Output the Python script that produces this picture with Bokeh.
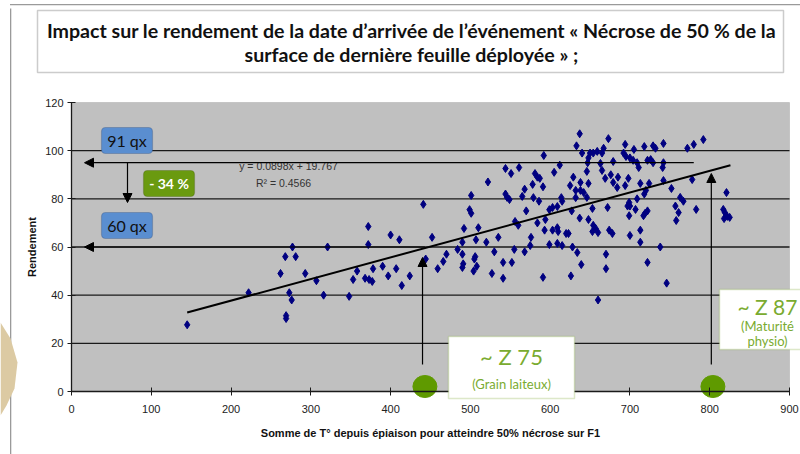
from bokeh.plotting import figure
from bokeh.models import (Label, BoxAnnotation, Arrow, NormalHead, PolyAnnotation,
                          ColumnDataSource, LinearAxis, FixedTicker)
from bokeh.embed import file_html
from bokeh.resources import INLINE

# ---------------- data ----------------
sum_temp = [145, 222, 262, 268, 277, 281, 293, 307, 273, 276, 269, 269, 316, 321,
            441, 372, 400, 411, 372, 452, 484, 470, 444, 466, 459, 358, 378, 390, 407, 397, 424,
            353, 368, 373, 377, 414, 348,
            637, 592, 612, 544, 551, 561, 605, 581, 584, 587, 522, 578, 568, 591, 625, 632, 501,
            544, 546, 549, 565, 579, 586, 614, 615, 632, 499, 501, 570, 599, 603, 609, 627, 556,
            560, 584, 594, 492, 510, 593, 603, 609, 610, 620, 623, 535, 576, 507, 520, 555, 568,
            575, 530, 599, 609, 615, 628, 634, 490, 491, 490, 506, 505, 508, 504, 541, 552, 527,
            541, 591, 626, 490,
            633, 640, 673, 650, 654, 659, 665, 667, 648, 647, 694, 692, 695, 705, 718, 732, 729,
            742, 772, 679, 663, 700, 704, 709, 711, 722, 726, 729, 742, 741, 646, 665, 629, 669,
            676, 679, 685, 698, 638, 648, 684, 694, 713, 724, 742, 638, 642, 646, 720, 718, 752,
            653, 672, 709, 699, 700, 697, 707, 722, 719, 717, 699, 757, 763, 767, 761, 758, 637,
            648, 654, 657, 653, 660, 674, 678, 713, 700, 639, 670, 670, 713, 738, 722, 746, 660,
            792, 780, 778, 821, 817, 819, 822, 825, 818, 783]
rendement = [27.7, 41, 49, 56, 60, 56, 49, 46, 41, 38, 31.5, 30.3, 40, 60,
             77.7, 68.5, 65, 63, 61, 64, 59, 57, 55, 54, 51, 50, 51, 52, 51, 48, 48,
             46.5, 47, 46.5, 45.7, 44, 39.5,
             107, 98, 94, 92.6, 90.5, 93, 91, 90.5, 89, 88.5, 87, 86, 84, 85, 85.5, 83.5, 81.4,
             82, 80.6, 79.7, 81, 80.5, 79, 80.5, 79, 80.5, 75.5, 74, 75, 75.5, 76.4, 76.8, 75, 70.6,
             69, 70, 71.4, 67.7, 68, 67, 67, 68, 66.4, 65.6, 65.6, 64, 64, 63, 62, 59, 58,
             60.6, 58, 61, 61.5, 60.6, 60, 57.7, 57, 53, 51.5, 56, 55, 52, 50, 53.6, 53.6, 49,
             47, 47.4, 48, 62,
             102, 99, 105, 99, 99, 99.7, 99, 101, 97, 95, 102.6, 99, 97.6, 100.5, 101.7, 101, 102,
             103, 101, 95.5, 94.7, 97, 96, 95, 93, 96, 96.3, 95, 95, 93, 91.4, 91.8, 89, 88.5,
             90, 86.8, 89, 88.5, 86.8, 86.4, 84.7, 85.5, 86.4, 86.4, 87.6, 83.5, 82.6, 80.6, 83.5, 82, 84.3,
             76, 76.4, 80, 78.5, 77, 77, 75.6, 75, 74, 73, 73, 77, 80.6, 79, 74.3, 71, 72,
             71.4, 69, 67.7, 66.4, 66, 67, 65.6, 67, 64.8, 52.7, 57, 51, 62, 60, 53.6, 45, 38,
             104.6, 102.6, 88, 82.6, 75.6, 74.3, 72.7, 72.3, 71.8, 75.6]

trend_slope = 0.0898
trend_intercept = 19.767
trend_r2 = 0.4566
trend_x = [145, 826]

x_ticks = [0, 100, 200, 300, 400, 500, 600, 700, 800, 900]
y_ticks = [0, 20, 40, 60, 80, 100, 120]
grid_y = [20, 40, 60, 80, 100]

level_y = [95, 60]            # yield level arrows (91 qx / 60 qx)
level_labels = ["91 qx", "60 qx"]
drop_label = "- 34 %"
stage_x = [443, 804]          # stage markers on the x axis
stage_names = ["~ Z 75", "~ Z 87"]
stage_notes = ["(Grain laiteux)", "(Maturité", "physio)"]

title_lines = ["Impact sur le rendement de la date d\u2019arrivée de l\u2019événement « Nécrose de 50 % de la",
               "surface de dernière feuille déployée » ;"]

# ---------------- figure ----------------
W, H = 800, 454

# canvas pixel -> data helpers
def dx(px):
    return (px - 71) / (718 / 900)

def dy(py):
    return (391 - py) / (289 / 120)

p = figure(width=W, height=H, x_range=(dx(0), dx(W)), y_range=(dy(H), dy(0)),
           min_border=0, x_axis_location=None, y_axis_location=None,
           output_backend="svg", toolbar_location=None)
p.outline_line_color = None
p.background_fill_color = "white"
p.border_fill_color = "white"
p.xgrid.grid_line_color = None
p.ygrid.grid_line_color = None

# plot area
p.add_layout(BoxAnnotation(left=0, right=900, bottom=0, top=120, fill_color="#c0c0c0",
                           fill_alpha=1, line_color="#8a8a8a", line_width=1, level="underlay"))
p.segment(x0=[0] * len(grid_y), x1=[900] * len(grid_y), y0=grid_y, y1=grid_y,
          line_color="#1a1a1a", line_width=1.3)

xax = LinearAxis(fixed_location=0, bounds=(0, 900), ticker=FixedTicker(ticks=x_ticks),
                 axis_label="Somme de T° depuis épiaison pour atteindre 50% nécrose sur F1")
yax = LinearAxis(fixed_location=0, bounds=(0, 120), ticker=FixedTicker(ticks=y_ticks),
                 axis_label="Rendement")
for ax in (xax, yax):
    ax.axis_line_color = "#1a1a1a"
    ax.axis_line_width = 1.3
    ax.major_tick_line_color = "#1a1a1a"
    ax.major_tick_in = 4
    ax.major_tick_out = 4
    ax.minor_tick_line_color = None
    ax.major_label_text_font = "Liberation Sans"
    ax.major_label_text_font_size = "11px"
    ax.major_label_text_color = "#222222"
    ax.axis_label_text_font = "Liberation Sans"
    ax.axis_label_text_font_size = "11px"
    ax.axis_label_text_font_style = "bold"
    ax.axis_label_text_color = "#111111"
xax.major_label_standoff = 9
yax.major_label_standoff = 4
xax.axis_label_standoff = 11
yax.axis_label_standoff = 4
p.add_layout(xax, "below")
p.add_layout(yax, "left")

# scatter
src = ColumnDataSource(dict(x=sum_temp, y=rendement))
p.scatter("x", "y", source=src, marker="diamond", size=8, fill_color="#000080",
          line_color="#000080")

# trend line
p.line(trend_x, [trend_slope * v + trend_intercept for v in trend_x], line_color="black", line_width=2)

p.add_layout(Label(x=dx(288), y=dy(165), text=f"y = {trend_slope}x + {trend_intercept}",
                   text_align="center", text_baseline="middle", text_font="Liberation Sans",
                   text_font_size="10.5px", text_color="#333333"))
p.add_layout(Label(x=dx(283), y=dy(182), text=f"R\u00b2 = {trend_r2}",
                   text_align="center", text_baseline="middle", text_font="Liberation Sans",
                   text_font_size="10.5px", text_color="#333333"))

# arrows
def head():
    return NormalHead(size=9, fill_color="black", line_color="black")

p.add_layout(Arrow(end=head(), x_start=780, y_start=level_y[0], x_end=dx(84), y_end=level_y[0],
                   line_color="black", line_width=1.2))
p.add_layout(Arrow(end=head(), x_start=stage_x[0], y_start=level_y[1], x_end=dx(84), y_end=level_y[1],
                   line_color="black", line_width=1.2))
p.add_layout(Arrow(end=head(), x_start=dx(127), y_start=level_y[0], x_end=dx(127), y_end=dy(202),
                   line_color="black", line_width=1.2))
p.add_layout(Arrow(end=head(), x_start=stage_x[0] - 3, y_start=dy(364), x_end=stage_x[0] - 3,
                   y_end=dy(257), line_color="black", line_width=1.2))
p.add_layout(Arrow(end=head(), x_start=stage_x[1] - 2, y_start=dy(364), x_end=stage_x[1] - 2,
                   y_end=dy(173), line_color="black", line_width=1.2))

# stage dots
p.ellipse(x=stage_x, y=[dy(386)] * 2, width=24 * 900 / 718, height=22 * 120 / 289,
          fill_color="#5f9a00", line_color="#5f9a00")

# blue level boxes
for lab, (t, b) in zip(level_labels, [(127, 153), (212, 238)]):
    p.add_layout(BoxAnnotation(left=dx(101), right=dx(152), top=dy(t), bottom=dy(b),
                               fill_color="#5a8ed0", fill_alpha=1, line_color="#2d4a73",
                               line_width=1.2, border_radius=4))
    p.add_layout(Label(x=dx(126.5), y=dy((t + b) / 2), text=lab, text_align="center",
                       text_baseline="middle", text_font="Lato", text_font_size="16px",
                       text_color="#111111"))

# green drop box
p.add_layout(BoxAnnotation(left=dx(143), right=dx(194), top=dy(170), bottom=dy(196),
                           fill_color="#6a9a10", fill_alpha=1, line_color="#3e5a08",
                           line_width=1.2, border_radius=4))
p.add_layout(Label(x=dx(168.5), y=dy(183), text=drop_label, text_align="center",
                   text_baseline="middle", text_font="Lato", text_font_size="14px",
                   text_font_style="bold", text_color="white"))

# stage boxes
green_txt = "#7aab30"
p.add_layout(BoxAnnotation(left=dx(448), right=dx(574), top=dy(336), bottom=dy(398),
                           fill_color="white", fill_alpha=1, line_color="#8db34c", line_width=1.5))
p.add_layout(Label(x=dx(511), y=dy(356), text=stage_names[0], text_align="center",
                   text_baseline="middle", text_font="Lato", text_font_size="22px", text_color=green_txt))
p.add_layout(Label(x=dx(511), y=dy(383), text=stage_notes[0], text_align="center",
                   text_baseline="middle", text_font="Lato", text_font_size="13px", text_color=green_txt))

p.add_layout(BoxAnnotation(left=dx(719), right=dx(830), top=dy(289), bottom=dy(349),
                           fill_color="white", fill_alpha=1, line_color="#8db34c", line_width=1.5))
p.add_layout(Label(x=dx(767), y=dy(306), text=stage_names[1], text_align="center",
                   text_baseline="middle", text_font="Lato", text_font_size="21px", text_color=green_txt))
p.add_layout(Label(x=dx(767), y=dy(325), text=stage_notes[1], text_align="center",
                   text_baseline="middle", text_font="Lato", text_font_size="13px", text_color=green_txt))
p.add_layout(Label(x=dx(767), y=dy(340), text=stage_notes[2], text_align="center",
                   text_baseline="middle", text_font="Lato", text_font_size="13px", text_color=green_txt))

# title box
p.add_layout(BoxAnnotation(left=dx(37), right=dx(783), top=dy(10), bottom=dy(72),
                           fill_color="white", fill_alpha=1, line_color="#555555", line_width=1.5))
p.add_layout(Label(x=dx(411), y=dy(30), text=title_lines[0], text_align="center",
                   text_baseline="middle", text_font="Lato", text_font_size="19.6px",
                   text_font_style="bold", text_color="#111111"))
p.add_layout(Label(x=dx(411), y=dy(54), text=title_lines[1], text_align="center",
                   text_baseline="middle", text_font="Lato", text_font_size="19.6px",
                   text_font_style="bold", text_color="#111111"))

# slide decoration: left frame line, top line and tan corner
p.add_layout(BoxAnnotation(left=dx(9.5), right=dx(10.8), top=dy(8), bottom=dy(470),
                           fill_color="#9a9a9a", fill_alpha=1, line_color=None))
p.add_layout(BoxAnnotation(left=dx(9.5), right=dx(800), top=dy(3.5), bottom=dy(4.8),
                           fill_color="#9a9a9a", fill_alpha=1, line_color=None))
p.add_layout(PolyAnnotation(xs=[dx(0), dx(10), dx(17), dx(14), dx(6), dx(0)],
                            ys=[dy(322), dy(338), dy(362), dy(388), dy(405), dy(415)],
                            fill_color="#dccaa3", fill_alpha=1, line_color=None))

open("out.html", "w").write(file_html(p, INLINE))
